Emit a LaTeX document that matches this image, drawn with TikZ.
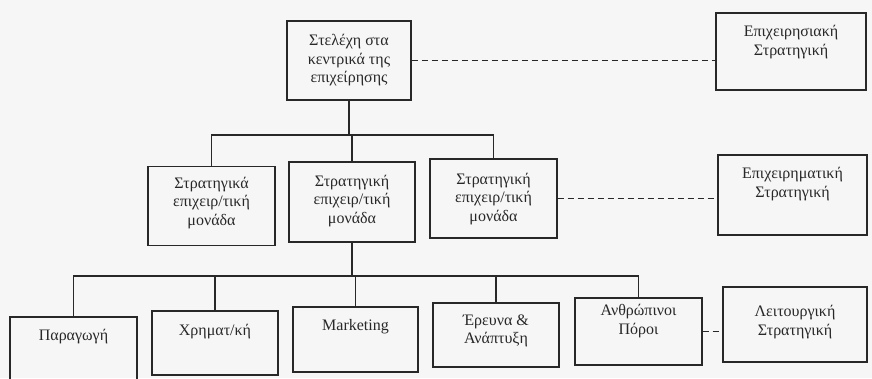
\documentclass[tikz,border=0pt]{standalone}
\usepackage{fontspec}
\setmainfont{Liberation Serif}
\definecolor{ink}{RGB}{40,40,40}
\definecolor{paper}{RGB}{246,246,246}
\begin{document}
\begin{tikzpicture}[x=1pt,y=-1pt,
  box/.style={draw=ink,line width=1.1pt,inner sep=0pt},
  strat/.style={draw=ink,line width=2.8pt,inner sep=0pt},
  lbl/.style={text=ink,align=center,inner sep=0pt,
    font=\fontsize{16pt}{18.5pt}\selectfont},
  link/.style={draw=ink,line width=1.1pt},
  dlink/.style={draw=ink,line width=1.1pt,dash pattern=on 6pt off 4pt}]
\fill[paper] (0,0) rectangle (872,378);
\useasboundingbox (0,0) rectangle (872,378);

% headquarters
\node[box,minimum width=124pt,minimum height=79pt] (ceo) at (349,60.5) {};
\node[lbl] (ceoT) at (349,60.5) {Στελέχη στα\\κεντρικά της\\επιχείρησης};

% business units
\node[box,minimum width=127pt,minimum height=79pt] (sbu1) at (211.5,206) {};
\node[lbl] (sbu1T) at (211.5,203) {Στρατηγικά\\επιχειρ/τική\\μονάδα};
\node[box,minimum width=126pt,minimum height=80pt] (sbu2) at (352,202) {};
\node[lbl] (sbu2T) at (352,201) {Στρατηγική\\επιχειρ/τική\\μονάδα};
\node[box,minimum width=127pt,minimum height=79pt] (sbu3) at (493.5,198.5) {};
\node[lbl] (sbu3T) at (493.5,199) {Στρατηγική\\επιχειρ/τική\\μονάδα};

% functional departments
\node[box,minimum width=127pt,minimum height=64pt] (p1) at (73.5,349) {};
\node[lbl] (p1T) at (73.5,337) {Παραγωγή};
\node[box,minimum width=126pt,minimum height=64pt] (p2) at (215,343) {};
\node[lbl] (p2T) at (215,332) {Χρηματ/κή};
\node[box,minimum width=125pt,minimum height=65pt] (p3) at (355.5,339.5) {};
\node[lbl] (p3T) at (355.5,327) {Marketing};
\node[box,minimum width=126pt,minimum height=64pt] (p4) at (496,335) {};
\node[lbl] (p4T) at (496,331) {Έρευνα \&\\Ανάπτυξη};
\node[box,minimum width=127pt,minimum height=67pt] (p5) at (638.5,331.5) {};
\node[lbl] (p5T) at (638.5,321) {Ανθρώπινοι\\Πόροι};

% strategy levels
\node[strat,minimum width=150pt,minimum height=77pt] (corp) at (791,51.5) {};
\node[lbl] (corpT) at (791,42) {Επιχειρησιακή\\Στρατηγική};
\node[strat,minimum width=149pt,minimum height=80pt] (bus) at (792.5,195) {};
\node[lbl] (busT) at (792.5,184) {Επιχειρηματική\\Στρατηγική};
\node[strat,minimum width=144pt,minimum height=75pt] (func) at (795,324.5) {};
\node[lbl] (funcT) at (795,322) {Λειτουργική\\Στρατηγική};

% hierarchy connectors
\coordinate (busA) at (0,135);
\coordinate (busB) at (0,276);
\draw[link] (ceo.south) -- (ceo.south |- busA);
\draw[link] (sbu1.north) |- (sbu3.north |- busA) -- (sbu3.north);
\draw[link] (sbu2.north) -- (sbu2.north |- busA);
\draw[link] (sbu2.south) -- (sbu2.south |- busB);
\draw[link] (p1.north) |- (p5.north |- busB) -- (p5.north);
\draw[link] (p2.north) -- (p2.north |- busB);
\draw[link] (p3.north) -- (p3.north |- busB);
\draw[link] (p4.north) -- (p4.north |- busB);

% dashed links to the strategy levels
\draw[dlink] (ceo.east) -- (corp.west |- ceo.east);
\draw[dlink] (sbu3.east) -- (bus.west |- sbu3.east);
\draw[dlink] (p5.east) -- (func.west |- p5.east);
\end{tikzpicture}
\end{document}
